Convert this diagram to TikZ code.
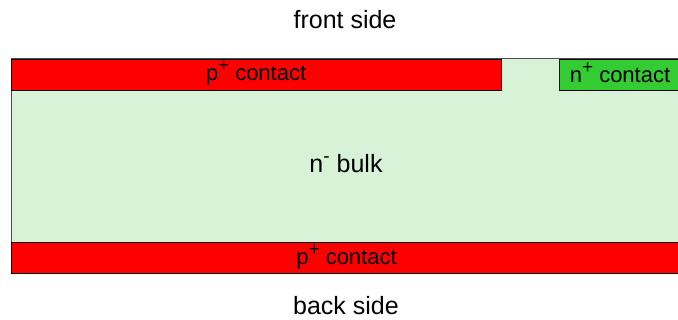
\documentclass[tikz,border=0pt]{standalone}
\usepackage{fontspec}
\setmainfont{Liberation Sans}
\definecolor{bulkgreen}{RGB}{216,242,216}
\definecolor{ncontact}{RGB}{51,204,51}
\definecolor{pcontact}{RGB}{255,0,0}
% raised doping sign
\newcommand{\dop}[1]{\raisebox{0.40em}{\fontsize{19}{19}\selectfont #1}}
\tikzset{
  layer/.style={draw=black, line width=0.8pt},
  label/.style={font=\fontsize{22}{26}\selectfont, inner sep=0pt},
  sidelabel/.style={font=\fontsize{25}{30}\selectfont, inner sep=0pt}
}
\begin{document}
\begin{tikzpicture}[x=1pt,y=-1pt]
  \useasboundingbox (0,0) rectangle (678,320);
  \clip (0,0) rectangle (678,320);
  % n- bulk substrate
  \draw[layer, draw=black!70, fill=bulkgreen] (11,58.5) rectangle (682,273);
  % front contacts
  \draw[layer, fill=pcontact] (11,59) rectangle (501,90);
  \draw[layer, fill=ncontact] (559,59) rectangle (682,90);
  % back contact
  \draw[layer, fill=pcontact] (11,242) rectangle (682,273);
  % labels
  \node[label] (ptop) at (256,73) {p\dop{+} contact};
  \node[label] (ntop) at (620,73) {n\dop{+} contact};
  \node[label] (pbot) at (346.5,257) {p\dop{+} contact};
  \node[sidelabel] (bulk) at (346,164) {n\dop{-} bulk};
  \node[sidelabel] (front) at (345,20) {front side};
  \node[sidelabel] (back) at (346,306) {back side};
\end{tikzpicture}
\end{document}
